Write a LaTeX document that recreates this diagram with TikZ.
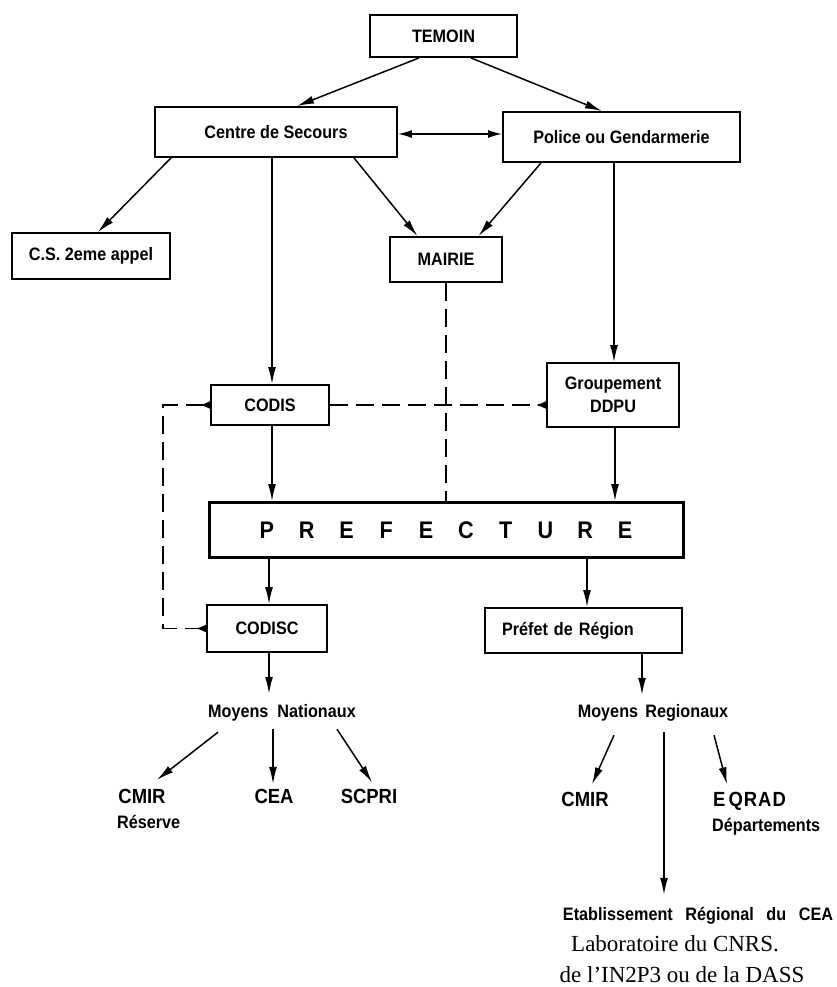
\documentclass[tikz,border=0pt]{standalone}
\usepackage{fontspec}
\setmainfont[FakeStretch=0.9]{Liberation Sans}
\newfontfamily\serifL{Liberation Serif}
\usetikzlibrary{arrows.meta}
\newcommand\pl[1]{\makebox[39.8pt]{#1}}
\tikzset{rtip/.tip={Latex[reversed,length=10pt,width=8pt]}}
\begin{document}
\begin{tikzpicture}[x=1pt,y=-1pt,
  box/.style={draw, line width=1.9pt, inner sep=0pt, align=center, font=\bfseries\fontsize{18}{23}\selectfont},
  lbl/.style={inner sep=0pt, font=\bfseries\fontsize{18}{20}\selectfont, text height=13pt, text depth=3pt},
  big/.style={font=\bfseries\fontsize{20.5}{23}\selectfont},
  con/.style={line width=1.5pt, -{Latex[length=17pt,width=8pt]}},
  dline/.style={line width=1.6pt, dash pattern=on 18pt off 8pt}
]
\useasboundingbox (0,0) rectangle (837,987);

% boxes
\node[box, minimum width=147pt, minimum height=42pt] (temoin) at (443.5,36) {TEMOIN};
\node[box, minimum width=242pt, minimum height=50pt] (centre) at (276,132) {Centre de Secours};
\node[box, minimum width=237pt, minimum height=50pt] (police) at (621.5,137) {Police ou Gendarmerie};
\node[box, minimum width=158pt, minimum height=46pt] (cs) at (91,256) {C.S. 2eme appel};
\node[box, minimum width=112pt, minimum height=45pt] (mairie) at (446,259.5) {MAIRIE};
\node[box, minimum width=118pt, minimum height=40pt] (codis) at (270,405) {CODIS};
\node[box, minimum width=132pt, minimum height=64pt] (grp) at (613,395) {Groupement\\DDPU};
\node[box, line width=3pt, minimum width=474pt, minimum height=55pt, font=\bfseries\fontsize{24}{28}\selectfont] (pref) at (446,530)
  {\pl{P}\pl{R}\pl{E}\pl{F}\pl{E}\pl{C}\pl{T}\pl{U}\pl{R}\pl{E}};
\node[box, minimum width=120pt, minimum height=47pt] (codisc) at (267,628.5) {CODISC};
\node[box, minimum width=197pt, minimum height=45pt, align=left, text width=163pt] (prefet) at (583.5,630.5) {Préfet de Région};

% labels
\node[lbl] (mn) at (282,712) {Moyens\hspace{0.5em}Nationaux};
\node[lbl] (mr) at (653,712) {Moyens\hspace{0.4em}Regionaux};
\node[lbl, big] (cmira) at (142,798) {CMIR};
\node[lbl, anchor=west] (res) at (117,823) {Réserve};
\node[lbl, big] (cea) at (274,798) {CEA};
\node[lbl, big] (scpri) at (369,798) {SCPRI};
\node[lbl, big] (cmirb) at (585,801) {CMIR};
\node[lbl, big, anchor=west] (eqrad) at (713,801) {E\hspace{3pt}Q\hspace{1pt}R\hspace{1pt}A\hspace{1pt}D};
\node[lbl, anchor=west] (dep) at (712,826) {Départements};
\node[lbl] (etab) at (698,915) {Etablissement\hspace{0.7em}Régional\hspace{0.7em}du\hspace{0.7em}CEA};
\node[inner sep=0pt, font=\serifL\fontsize{23}{26}\selectfont] (lab) at (675,944) {Laboratoire du CNRS.};
\node[inner sep=0pt, font=\serifL\fontsize{23}{26}\selectfont] (dass) at (682,975) {de l’IN2P3 ou de la DASS};

% solid connectors
\draw[con] ([xshift=-24.5pt]temoin.south) -- ([xshift=21pt]centre.north);
\draw[con] ([xshift=27.5pt]temoin.south) -- ([xshift=-19.5pt]police.north);
\draw[line width=1.5pt, {Latex[length=14pt,width=8pt]}-{Latex[length=14pt,width=8pt]}] ([yshift=-2pt]centre.east) -- ([yshift=3pt]police.west);
\draw[con] ([xshift=-105pt]centre.south) -- ([xshift=7pt]cs.north);
\draw[con] ([xshift=78pt]centre.south) -- ([xshift=-28.5pt]mairie.north);
\draw[con] ([xshift=-80.5pt]police.south) -- ([xshift=32.5pt]mairie.north);
\draw[con] ([xshift=-4pt]centre.south) -- ([xshift=2pt]codis.north);
\draw[con] ([xshift=-7.5pt]police.south) -- ([xshift=1pt]grp.north);
\draw[con] ([xshift=2pt]codis.south) -- ([xshift=-174pt]pref.north);
\draw[con] ([xshift=2pt]grp.south) -- ([xshift=169pt]pref.north);
\draw[con] ([xshift=-177pt]pref.south) -- ([xshift=2pt]codisc.north);
\draw[con] ([xshift=141pt]pref.south) -- ([xshift=3.5pt]prefet.north);
\draw[con] ([xshift=2pt]codisc.south) -- ([xshift=-13pt,yshift=10pt]mn.north);
\draw[con] ([xshift=58.5pt]prefet.south) -- ([xshift=-11pt,yshift=9pt]mr.north);

% from Moyens Nationaux
\draw[con] ([xshift=-64pt,yshift=-12pt]mn.south) -- ([xshift=15pt,yshift=10pt]cmira.north);
\draw[con] ([xshift=-9pt,yshift=-9pt]mn.south) -- ([xshift=-1pt,yshift=6pt]cea.north);
\draw[con] ([xshift=55pt,yshift=-9pt]mn.south) -- ([xshift=3pt,yshift=7.5pt]scpri.north);
% from Moyens Regionaux
\draw[con] ([xshift=-39pt,yshift=-15pt]mr.south) -- ([xshift=7pt,yshift=8.5pt]cmirb.north);
\draw[con] ([xshift=11pt,yshift=-12pt]mr.south) -- ([xshift=-34pt,yshift=12pt]etab.north);
\draw[con] ([xshift=61pt,yshift=-15pt]mr.south) -- ([xshift=14pt,yshift=8.5pt]eqrad.north west);

% dashed connectors
\coordinate (dl) at (163,405);
\draw[dline] (mairie.south) -- (pref.north);
\draw[dline, -rtip] (codis.east) -- (grp.west |- codis.east);
\draw[dline, rtip-rtip] (codis.west) -- (codis.west -| dl) -- (dl |- codisc.west) -- (codisc.west);
\end{tikzpicture}
\end{document}
